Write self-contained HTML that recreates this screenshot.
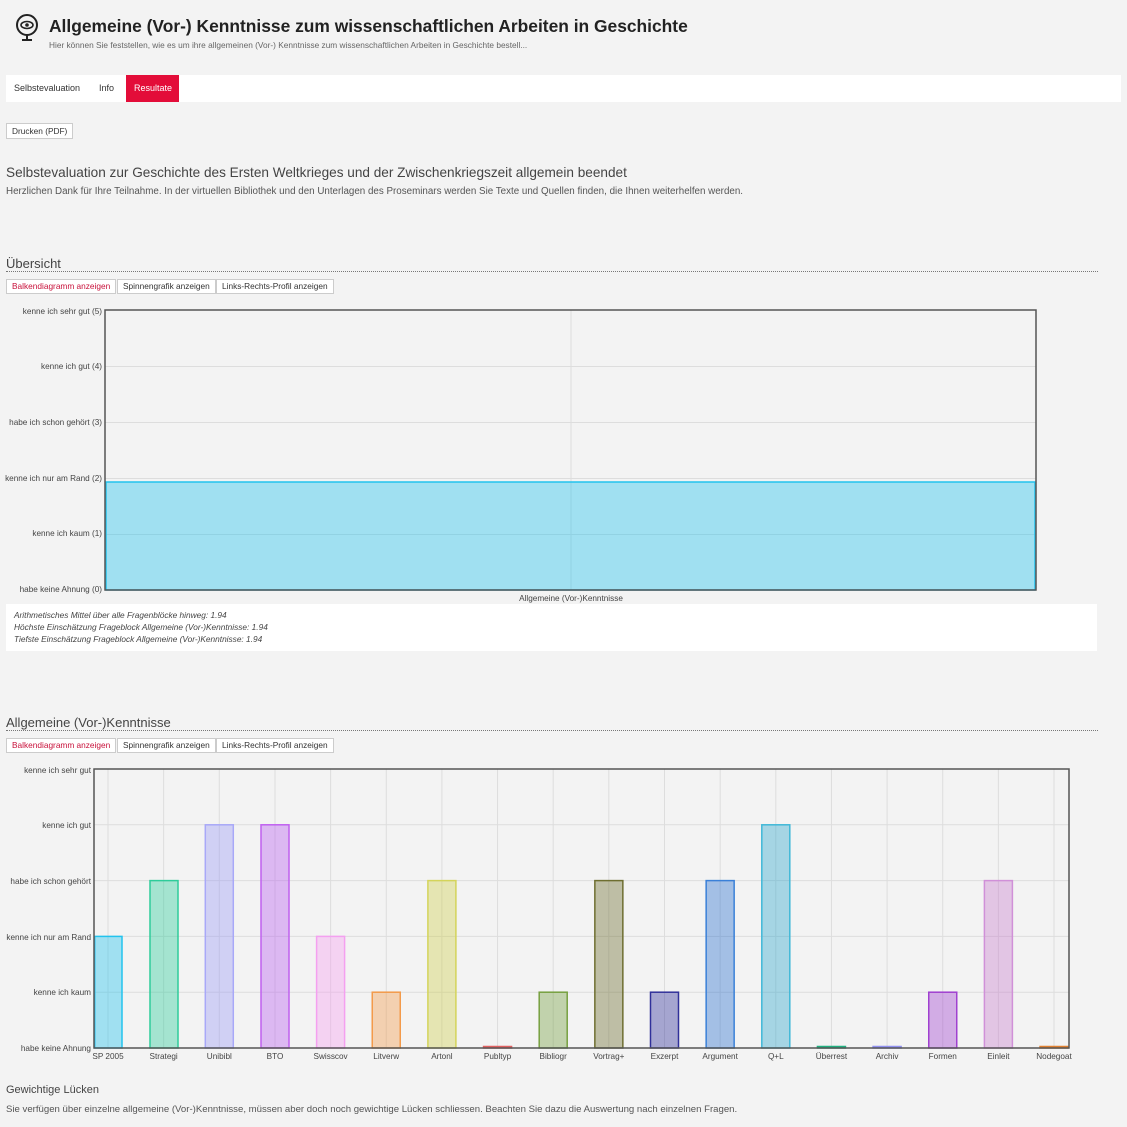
<!DOCTYPE html>
<html><head><meta charset="utf-8"><style>
body{margin:0;width:1127px;height:1127px;background:#f3f3f3;font-family:"Liberation Sans",sans-serif;color:#333;position:relative;overflow:hidden}
.a{position:absolute;white-space:nowrap}
.btn{position:absolute;border:1px solid #ccc;background:#fff;font-size:8.3px;line-height:13px;padding:0 5px;color:#333}
</style></head><body>
<svg class="a" style="left:14px;top:14px" width="26" height="28" viewBox="0 0 26 28"><circle cx="13" cy="11" r="10" fill="none" stroke="#222" stroke-width="2"/><ellipse cx="13" cy="11" rx="6" ry="3.5" fill="none" stroke="#222" stroke-width="1.6"/><circle cx="13" cy="11" r="1.8" fill="#222"/><path d="M13 21v4M8 26h10" stroke="#222" stroke-width="2"/></svg>
<div class="a" style="left:49px;top:16px;font-size:17.4px;font-weight:bold;color:#222">Allgemeine (Vor-) Kenntnisse zum wissenschaftlichen Arbeiten in Geschichte</div>
<div class="a" style="left:49px;top:40px;font-size:8.3px;color:#666">Hier können Sie feststellen, wie es um ihre allgemeinen (Vor-) Kenntnisse zum wissenschaftlichen Arbeiten in Geschichte bestell...</div>
<div class="a" style="left:6px;top:75px;width:1115px;height:27px;background:#fff"></div>
<div class="a" style="left:14px;top:83px;font-size:9px">Selbstevaluation</div>
<div class="a" style="left:99px;top:83px;font-size:9px">Info</div>
<div class="a" style="left:126px;top:75px;width:53px;height:27px;background:#e30d39"></div>
<div class="a" style="left:134px;top:83px;font-size:9px;color:#fff">Resultate</div>
<div class="btn" style="left:6px;top:123px;height:14px;line-height:14px">Drucken (PDF)</div>
<div class="a" style="left:6px;top:165px;font-size:13.6px;color:#444">Selbstevaluation zur Geschichte des Ersten Weltkrieges und der Zwischenkriegszeit allgemein beendet</div>
<div class="a" style="left:6px;top:186px;font-size:9.8px;color:#555">Herzlichen Dank für Ihre Teilnahme. In der virtuellen Bibliothek und den Unterlagen des Proseminars werden Sie Texte und Quellen finden, die Ihnen weiterhelfen werden.</div>

<div class="a" style="left:6px;top:256px;font-size:13px;color:#444">Übersicht</div>
<div class="a" style="left:6px;top:271px;width:1092px;border-top:1px dotted #777"></div>
<div class="btn" style="left:6px;top:279px;color:#c8103a">Balkendiagramm anzeigen</div>
<div class="btn" style="left:117px;top:279px">Spinnengrafik anzeigen</div>
<div class="btn" style="left:216px;top:279px">Links-Rechts-Profil anzeigen</div>

<div class="a" style="left:6px;top:604px;width:1091px;height:47px;background:#fff"></div>
<div class="a" style="left:14px;top:609px;font-size:8.3px;font-style:italic;color:#444;line-height:12px">Arithmetisches Mittel über alle Fragenblöcke hinweg: 1.94<br>Höchste Einschätzung Frageblock Allgemeine (Vor-)Kenntnisse: 1.94<br>Tiefste Einschätzung Frageblock Allgemeine (Vor-)Kenntnisse: 1.94</div>

<div class="a" style="left:6px;top:715px;font-size:13px;color:#444">Allgemeine (Vor-)Kenntnisse</div>
<div class="a" style="left:6px;top:730px;width:1092px;border-top:1px dotted #777"></div>
<div class="btn" style="left:6px;top:738px;color:#c8103a">Balkendiagramm anzeigen</div>
<div class="btn" style="left:117px;top:738px">Spinnengrafik anzeigen</div>
<div class="btn" style="left:216px;top:738px">Links-Rechts-Profil anzeigen</div>

<div class="a" style="left:6px;top:1084px;font-size:11px;color:#444">Gewichtige Lücken</div>
<div class="a" style="left:6px;top:1104px;font-size:9.6px;color:#555">Sie verfügen über einzelne allgemeine (Vor-)Kenntnisse, müssen aber doch noch gewichtige Lücken schliessen. Beachten Sie dazu die Auswertung nach einzelnen Fragen.</div>

<svg class="a" style="left:0;top:0" width="1127" height="1127" font-family="Liberation Sans, sans-serif" font-size="8.2" fill="#444">
<g stroke="#ddd" stroke-width="1">
<line x1="105" y1="366.5" x2="1036" y2="366.5"/><line x1="105" y1="422.5" x2="1036" y2="422.5"/><line x1="105" y1="478.5" x2="1036" y2="478.5"/><line x1="105" y1="534.5" x2="1036" y2="534.5"/><line x1="571" y1="310" x2="571" y2="590"/>
</g>
<rect x="106" y="482" width="929" height="108" fill="rgba(34,195,238,0.4)" stroke="#22c3ee" stroke-width="1.5"/>
<rect x="105" y="310" width="931" height="280" fill="none" stroke="#555" stroke-width="1.5"/>
<g text-anchor="end">
<text x="102" y="314">kenne ich sehr gut (5)</text><text x="102" y="369">kenne ich gut (4)</text><text x="102" y="425">habe ich schon gehört (3)</text><text x="102" y="481">kenne ich nur am Rand (2)</text><text x="102" y="536">kenne ich kaum (1)</text><text x="102" y="592">habe keine Ahnung (0)</text>
</g>
<text x="571" y="601" text-anchor="middle">Allgemeine (Vor-)Kenntnisse</text>

<g stroke="#ddd" stroke-width="1">
<line x1="94" y1="824.8" x2="1069" y2="824.8"/><line x1="94" y1="880.6" x2="1069" y2="880.6"/><line x1="94" y1="936.4" x2="1069" y2="936.4"/><line x1="94" y1="992.2" x2="1069" y2="992.2"/>
<line x1="108" y1="769" x2="108" y2="1048"/><line x1="163.65" y1="769" x2="163.65" y2="1048"/><line x1="219.3" y1="769" x2="219.3" y2="1048"/><line x1="275" y1="769" x2="275" y2="1048"/><line x1="330.6" y1="769" x2="330.6" y2="1048"/><line x1="386.25" y1="769" x2="386.25" y2="1048"/><line x1="441.9" y1="769" x2="441.9" y2="1048"/><line x1="497.55" y1="769" x2="497.55" y2="1048"/><line x1="553.2" y1="769" x2="553.2" y2="1048"/><line x1="608.85" y1="769" x2="608.85" y2="1048"/><line x1="664.5" y1="769" x2="664.5" y2="1048"/><line x1="720.15" y1="769" x2="720.15" y2="1048"/><line x1="775.8" y1="769" x2="775.8" y2="1048"/><line x1="831.45" y1="769" x2="831.45" y2="1048"/><line x1="887.1" y1="769" x2="887.1" y2="1048"/><line x1="942.75" y1="769" x2="942.75" y2="1048"/><line x1="998.4" y1="769" x2="998.4" y2="1048"/><line x1="1054" y1="769" x2="1054" y2="1048"/>
</g>
<g stroke-width="1.5" fill-opacity="0.4">
<rect x="94.7" y="936.4" width="27.3" height="111.6" fill="#22c3ee" stroke="#22c3ee"/>
<rect x="150" y="880.6" width="28" height="167.4" fill="#2ecc9a" stroke="#2ecc9a"/>
<rect x="205.3" y="824.8" width="28" height="223.2" fill="#9a9af5" stroke="#a8a8f8"/>
<rect x="261" y="824.8" width="28" height="223.2" fill="#b860f0" stroke="#c060f0"/>
<rect x="316.6" y="936.4" width="28" height="111.6" fill="#f4a0f0" stroke="#f4a0f0"/>
<rect x="372.25" y="992.2" width="28" height="55.8" fill="#f39a4a" stroke="#f39a4a"/>
<rect x="427.9" y="880.6" width="28" height="167.4" fill="#d0d050" stroke="#d4d45a"/>
<rect x="483.55" y="1046.5" width="28" height="1.5" fill="#e06060" stroke="#e06060"/>
<rect x="539.2" y="992.2" width="28" height="55.8" fill="#76a040" stroke="#76a040"/>
<rect x="594.85" y="880.6" width="28" height="167.4" fill="#6e6e30" stroke="#6e6e30"/>
<rect x="650.5" y="992.2" width="28" height="55.8" fill="#30309a" stroke="#30309a"/>
<rect x="706.15" y="880.6" width="28" height="167.4" fill="#2a70d0" stroke="#3a80d8"/>
<rect x="761.8" y="824.8" width="28" height="223.2" fill="#30a8cc" stroke="#40b8d8"/>
<rect x="817.45" y="1046.5" width="28" height="1.5" fill="#20b080" stroke="#20b080"/>
<rect x="873.1" y="1046.5" width="28" height="1.5" fill="#9090f0" stroke="#9090f0"/>
<rect x="928.75" y="992.2" width="28" height="55.8" fill="#a040d0" stroke="#a040d0"/>
<rect x="984.4" y="880.6" width="28" height="167.4" fill="#c880cc" stroke="#d090d8"/>
<rect x="1040.05" y="1046.5" width="28" height="1.5" fill="#e08030" stroke="#e08030"/>
</g>
<rect x="94" y="769" width="975" height="279" fill="none" stroke="#555" stroke-width="1.5"/>
<g text-anchor="end">
<text x="91" y="773">kenne ich sehr gut</text><text x="91" y="828">kenne ich gut</text><text x="91" y="884">habe ich schon gehört</text><text x="91" y="940">kenne ich nur am Rand</text><text x="91" y="995">kenne ich kaum</text><text x="91" y="1051">habe keine Ahnung</text>
</g>
<g text-anchor="middle">
<text x="108" y="1059">SP 2005</text><text x="163.65" y="1059">Strategi</text><text x="219.3" y="1059">Unibibl</text><text x="275" y="1059">BTO</text><text x="330.6" y="1059">Swisscov</text><text x="386.25" y="1059">Litverw</text><text x="441.9" y="1059">Artonl</text><text x="497.55" y="1059">Publtyp</text><text x="553.2" y="1059">Bibliogr</text><text x="608.85" y="1059">Vortrag+</text><text x="664.5" y="1059">Exzerpt</text><text x="720.15" y="1059">Argument</text><text x="775.8" y="1059">Q+L</text><text x="831.45" y="1059">Überrest</text><text x="887.1" y="1059">Archiv</text><text x="942.75" y="1059">Formen</text><text x="998.4" y="1059">Einleit</text><text x="1054" y="1059">Nodegoat</text>
</g>
</svg>
</body></html>
